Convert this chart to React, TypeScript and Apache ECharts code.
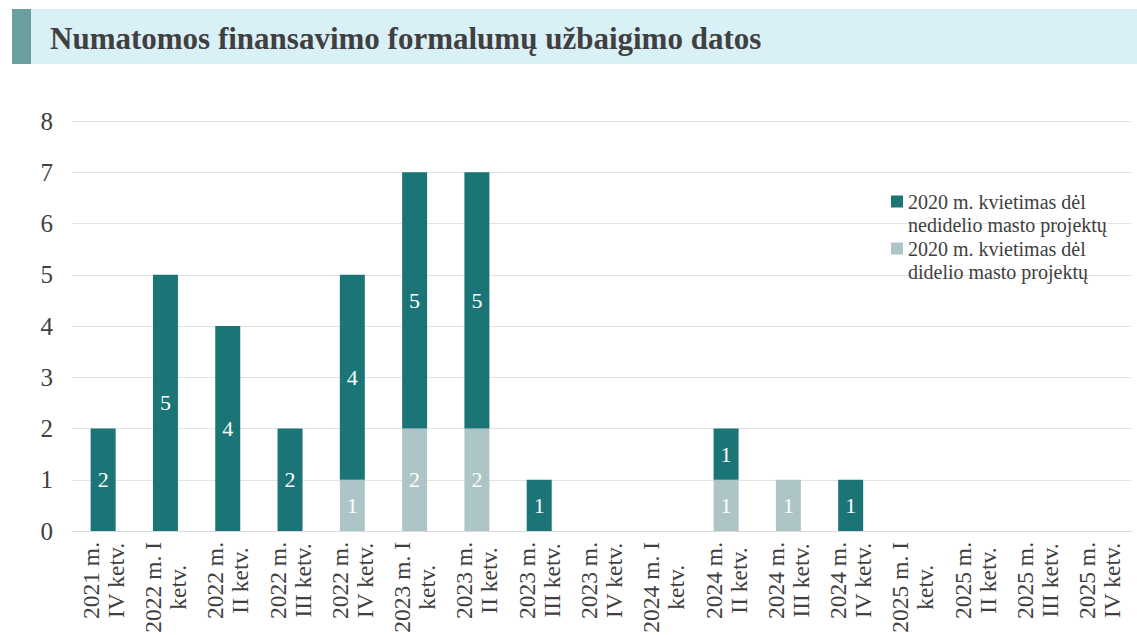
import React, { useEffect, useRef } from "react";
import * as echarts from "echarts";

const titleText = "Numatomos finansavimo formalumų užbaigimo datos";

const categories = [
  "2021 m.\nIV ketv.",
  "2022 m. I\nketv.",
  "2022 m.\nII ketv.",
  "2022 m.\nIII ketv.",
  "2022 m.\nIV ketv.",
  "2023 m. I\nketv.",
  "2023 m.\nII ketv.",
  "2023 m.\nIII ketv.",
  "2023 m.\nIV ketv.",
  "2024 m. I\nketv.",
  "2024 m.\nII ketv.",
  "2024 m.\nIII ketv.",
  "2024 m.\nIV ketv.",
  "2025 m. I\nketv.",
  "2025 m.\nII ketv.",
  "2025 m.\nIII ketv.",
  "2025 m.\nIV ketv.",
];

const smallName = "2020 m. kvietimas dėl nedidelio masto projektų";
const largeName = "2020 m. kvietimas dėl didelio masto projektų";

const smallValues = [2, 5, 4, 2, 4, 5, 5, 1, 0, 0, 1, 0, 1, 0, 0, 0, 0];
const largeValues = [0, 0, 0, 0, 1, 2, 2, 0, 0, 0, 1, 1, 0, 0, 0, 0, 0];

const yTicks = { min: 0, max: 8, interval: 1 };

const FONT = "'Liberation Serif', 'Times New Roman', serif";
const TEXT = "#404040";
const DARK = "#1b7476";
const LIGHT = "#aec5c8";

export default function App() {
  const ref = useRef<HTMLDivElement>(null);

  useEffect(() => {
    if (!ref.current) return;
    const chart = echarts.init(ref.current, undefined, { renderer: "svg" });
    const labelFmt = (p: any) => (p.value ? String(p.value) : "");
    const barLabel = {
      show: true,
      position: "inside",
      color: "#ffffff",
      fontFamily: FONT,
      fontSize: 22,
      formatter: labelFmt,
    };
    chart.setOption({
      animation: false,
      backgroundColor: "#ffffff",
      textStyle: { fontFamily: FONT },
      graphic: [
        {
          type: "rect",
          shape: { x: 12, y: 9, width: 1125, height: 55 },
          style: { fill: "#daf0f7" },
          silent: true,
        },
        {
          type: "rect",
          shape: { x: 12, y: 9, width: 19, height: 55 },
          style: { fill: "#6a9fa0" },
          silent: true,
        },
        {
          type: "text",
          x: 50,
          y: 38,
          style: {
            text: titleText,
            fontFamily: FONT,
            fontSize: 31,
            fontWeight: "bold",
            fill: TEXT,
            verticalAlign: "middle",
            align: "left",
          },
          silent: true,
        },
      ],
      grid: {
        left: 72,
        right: 6,
        top: 121,
        bottom: 104,
        containLabel: false,
        outerBoundsMode: "none",
      },
      legend: {
        orient: "vertical",
        left: 891,
        top: 167,
        padding: 0,
        itemWidth: 12,
        itemHeight: 12,
        itemGap: -22,
        icon: "rect",
        data: [smallName, largeName],
        formatter: (name: string) => "\n" + name.replace(" dėl ", " dėl\n"),
        textStyle: {
          fontFamily: FONT,
          fontSize: 20,
          lineHeight: 23,
          color: TEXT,
        },
      },
      xAxis: {
        type: "category",
        data: categories,
        axisLine: { lineStyle: { color: "#d9d9d9", width: 1 } },
        axisTick: { show: false },
        axisLabel: {
          interval: 0,
          rotate: 90,
          margin: 11,
          color: TEXT,
          fontFamily: FONT,
          fontSize: 23.5,
          lineHeight: 25,
          formatter: (v: string) =>
            v
              .split("\n")
              .map((l) => `{c|${l}}`)
              .join("\n"),
          rich: {
            c: {
              align: "center",
              fontFamily: FONT,
              fontSize: 23.5,
              lineHeight: 25,
              color: TEXT,
            },
          },
        },
      },
      yAxis: {
        type: "value",
        min: yTicks.min,
        max: yTicks.max,
        interval: yTicks.interval,
        axisLine: { show: false },
        axisTick: { show: false },
        axisLabel: { color: TEXT, fontFamily: FONT, fontSize: 25, margin: 19 },
        splitLine: { lineStyle: { color: "#e3e3e3", width: 1 } },
      },
      series: [
        {
          name: largeName,
          type: "bar",
          stack: "total",
          data: largeValues,
          barWidth: 25,
          itemStyle: { color: LIGHT },
          label: barLabel,
        },
        {
          name: smallName,
          type: "bar",
          stack: "total",
          data: smallValues,
          barWidth: 25,
          itemStyle: { color: DARK },
          label: barLabel,
        },
      ],
    });
    return () => chart.dispose();
  }, []);

  return (
    <div
      ref={ref}
      style={{ position: "fixed", left: 0, top: 0, width: 1137, height: 635 }}
    />
  );
}
